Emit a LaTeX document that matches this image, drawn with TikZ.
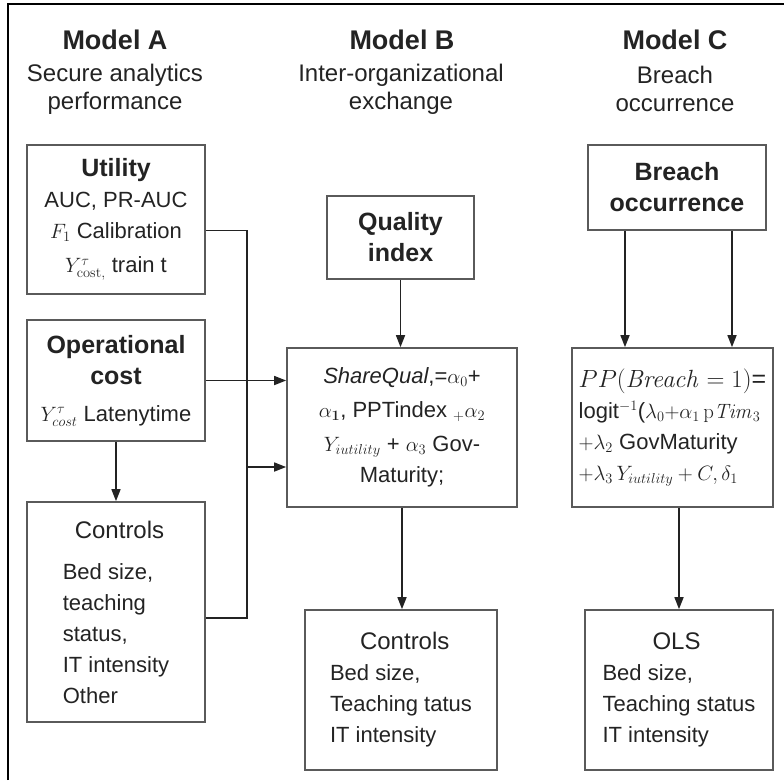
\documentclass[tikz,border=0pt]{standalone}
\usepackage[no-math]{fontspec}
\setmainfont{Liberation Sans}
\usetikzlibrary{arrows.meta}
\definecolor{BoxGray}{RGB}{90,90,90}
\definecolor{InkGray}{RGB}{35,35,35}
\newcommand{\bodyfont}{\fontsize{22}{31}\selectfont}
\newcommand{\headfont}{\fontsize{25}{31}\selectfont\bfseries}

\begin{document}
\begin{tikzpicture}[x=1pt,y=-1pt,
    box/.style={draw=BoxGray, line width=1.7pt, inner sep=0pt, text=InkGray, font=\bodyfont},
    title/.style={font=\fontsize{27}{30}\selectfont\bfseries, text=InkGray},
    subtitle/.style={font=\fontsize{24}{28}\selectfont, align=center, text=InkGray},
    link/.style={draw=InkGray, line width=1.6pt, -{Triangle[length=12pt,width=9pt]}},
    wire/.style={draw=InkGray, line width=1.6pt}]
  \useasboundingbox (0,0) rectangle (784,780);
  \draw[line width=2pt] (8,780) -- (8,4) -- (784,4);

  \node[title] (titleA) at (115,40) {Model A};
  \node[title] (titleB) at (402,40) {Model B};
  \node[title] (titleC) at (675,40) {Model C};
  \node[subtitle] (subA) at (115,89) {Secure analytics\\performance};
  \node[subtitle] (subB) at (401,89) {Inter-organizational\\exchange};
  \node[subtitle] (subC) at (675,89) {Breach\\occurrence};

  % Model A
  \node[box, minimum width=178, minimum height=149, align=center] (utility) at (116,219.5)
    {{\headfont Utility}\\AUC, PR-AUC\\$F_1$ Calibration\\[3pt]$Y^{\tau}_{\mathrm{cost},}$ train t};
  \node[box, minimum width=178, minimum height=121, align=center] (opcost) at (116,380.5)
    {{\headfont Operational}\\{\headfont cost}\\[6pt]$Y^{\tau}_{cost}$ Latenytime};
  \node[box, minimum width=178, minimum height=220, align=left] (ctrlA) at (116,612)
    {\hspace*{12pt}{\fontsize{24}{31}\selectfont Controls}\\[10pt]Bed size,\\teaching\\status,\\IT intensity\\Other};

  % Model B
  \node[box, minimum width=147, minimum height=83, align=center] (quality) at (400.5,237.5)
    {{\headfont Quality}\\{\headfont index}};
  \node[box, minimum width=230, minimum height=159, align=center] (share) at (402,427.5)
    {\textit{ShareQual},=$\alpha_0$+\\[3pt]$\alpha_{\mathbf{1}}$, PPTindex ${}_{+}\alpha_2$\\[3pt]$Y_{iutility}$ + $\alpha_3$ Gov-\\Maturity;};
  \node[box, minimum width=192, minimum height=160, align=left] (ctrlB) at (401,690)
    {\hspace*{30pt}{\fontsize{24}{31}\selectfont Controls}\\Bed size,\\Teaching tatus\\IT intensity};

  % Model C
  \node[box, minimum width=178, minimum height=85, align=center] (breach) at (677,187.5)
    {{\headfont Breach}\\{\headfont occurrence}};
  \node[box, minimum width=201, minimum height=159, align=left] (pp) at (672.5,427.5)
    {{\fontsize{25}{31}\selectfont$PP(\mathit{Breach}=1)$=}\\logit$^{-1}$($\lambda_0{+}\alpha_1\,\mathrm{p}\mathit{Tim}_3$\\$+\lambda_2$ GovMaturity\\$+\lambda_3\,Y_{iutility}+C,\delta_1$};
  \node[box, minimum width=188, minimum height=160, align=left] (ols) at (679,690)
    {\hspace*{50pt}{\fontsize{24}{31}\selectfont OLS}\\Bed size,\\Teaching status\\IT intensity};

  % connectors
  \coordinate (bus) at (247,467);
  \draw[wire] ([yshift=-11pt]utility.east) -| (bus);
  \draw[wire] ([yshift=-6pt]ctrlA.east) -| (bus);
  \draw[link] (bus) -- (bus -| share.west);
  \draw[link] (opcost.east) -- (opcost.east -| share.west);
  \draw[link] (opcost.south) -- (ctrlA.north);
  \draw[link] (quality.south) -- (quality.south |- share.north);
  \draw[link] (share.south) -- (share.south |- ctrlB.north);
  \draw[link] ([xshift=-52pt]breach.south) -- ([xshift=-52pt]breach.south |- pp.north);
  \draw[link] ([xshift=55pt]breach.south) -- ([xshift=55pt]breach.south |- pp.north);
  \draw[link] (ols.north |- pp.south) -- (ols.north);
\end{tikzpicture}
\end{document}
